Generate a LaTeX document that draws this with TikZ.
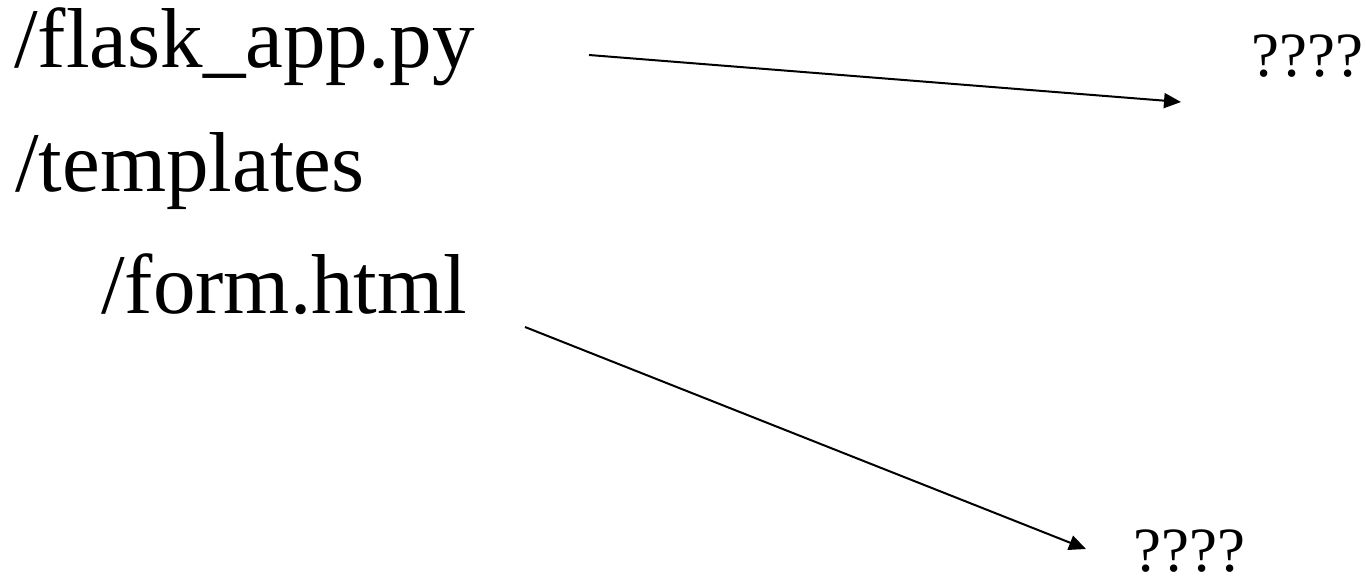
\documentclass[tikz,border=0pt]{standalone}
\usepackage{fontspec}
\setmainfont{Liberation Serif}
\usetikzlibrary{arrows.meta}

\tikzset{
  pathlabel/.style={anchor=base west, inner sep=0pt, font=\fontsize{85}{100}\selectfont},
  unknown/.style={anchor=base west, inner sep=0pt, font=\fontsize{63}{72}\selectfont},
  link/.style={line width=2pt, -{Triangle[length=17pt,width=15pt]}}
}

\begin{document}
\begin{tikzpicture}[x=1pt,y=-1pt]
  \useasboundingbox (0,0) rectangle (1366,578);

  % project layout
  \node[pathlabel] (app)   at (14,67)  {/flask\_app.py};
  \node[pathlabel] (tpl)   at (15,191) {/templates};
  \node[pathlabel] (form)  at (101,313) {/form.html};

  % unknown targets
  \node[unknown] (q1) at (1251,77)  {????};
  \node[unknown] (q2) at (1133,571) {????};

  % connector end points
  \coordinate (appout)  at (589,55);
  \coordinate (q1in)    at (1181,102);
  \coordinate (formout) at (525,327);
  \coordinate (q2in)    at (1086,549);

  \draw[link] (appout) -- (q1in);
  \draw[link] (formout) -- (q2in);
\end{tikzpicture}
\end{document}
